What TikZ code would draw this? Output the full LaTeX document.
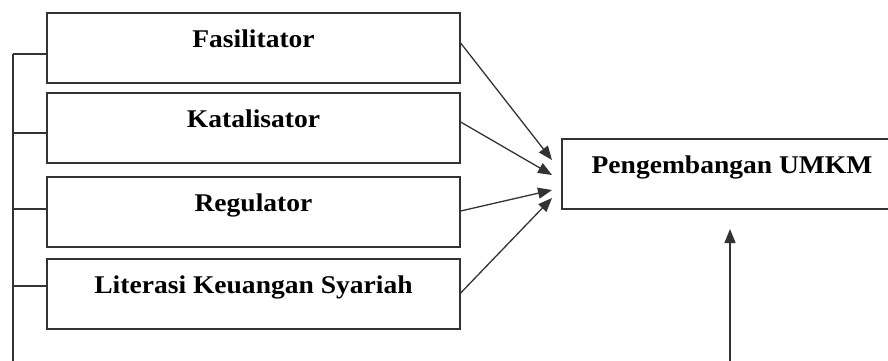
\documentclass[tikz,border=0pt]{standalone}
\usepackage{fontspec}
\setmainfont{Liberation Serif}[FakeStretch=1.08]
\usetikzlibrary{arrows.meta}
\begin{document}
\begin{tikzpicture}[x=1pt,y=-1pt,
  ln/.style={draw=black!80,line width=1.3pt},
  box/.style={ln,rectangle,minimum width=413pt,minimum height=70pt,inner sep=0pt,
    text height=20pt,text depth=21pt,font=\fontsize{25.5}{30}\selectfont\bfseries},
  arr/.style={ln,-{Triangle[length=14pt,width=11pt]}}]
\useasboundingbox (0,0) rectangle (888,360);
\clip (0,0) rectangle (888,360);
\node[box] (b1) at (253.5,48) {Fasilitator};
\node[box] (b2) at (253.5,128) {Katalisator};
\node[box] (b3) at (253.5,212) {Regulator};
\node[box] (b4) at (253.5,294) {Literasi Keuangan Syariah};
\node[box,minimum width=340pt] (r) at (732,174) {Pengembangan UMKM};
% spine
\coordinate (s1) at (13,54);
\coordinate (s2) at (13,133);
\coordinate (s3) at (13,209);
\coordinate (s4) at (13,286);
\coordinate (sb) at (13,365);
\draw[ln] (s1) -- (sb);
\draw[ln] (s1) -- (s1 -| b1.west);
\draw[ln] (s2) -- (s2 -| b2.west);
\draw[ln] (s3) -- (s3 -| b3.west);
\draw[ln] (s4) -- (s4 -| b4.west);
% arrows to result
\coordinate (t1) at (552,160);
\coordinate (t2) at (552,175);
\coordinate (t3) at (552,190);
\coordinate (t4) at (552,198);
\draw[arr] ([yshift=5pt]b1.east) -- (t1);
\draw[arr] ([yshift=6pt]b2.east) -- (t2);
\draw[arr] ([yshift=1pt]b3.east) -- (t3);
\draw[arr] ([yshift=1pt]b4.east) -- (t4);
% bottom arrow
\coordinate (ub) at (730,365);
\coordinate (ut) at (730,229);
\draw[arr] (ub) -- (ut);
\end{tikzpicture}
\end{document}
